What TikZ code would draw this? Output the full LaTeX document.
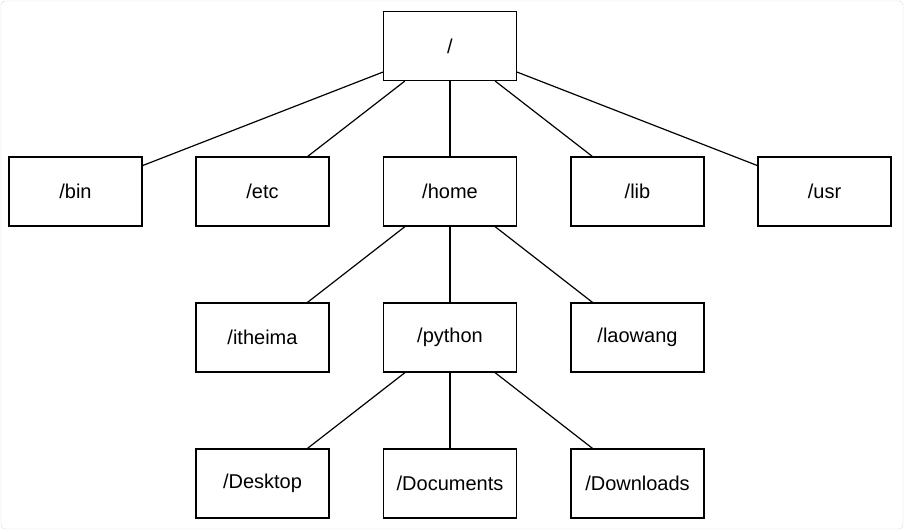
\documentclass[tikz,border=0pt]{standalone}
\usepackage{fontspec}
\setmainfont{Liberation Sans}
\begin{document}
\begin{tikzpicture}[x=1pt,y=-1pt,
  box/.style={draw,line width=1.2pt,minimum width=133pt,minimum height=69pt,inner sep=0pt,font=\fontsize{20}{22}\selectfont},
  ln/.style={line width=1.2pt}]
\useasboundingbox (0,0) rectangle (904,532);
\draw[gray!30,rounded corners=4pt] (1,1) rectangle (903,529);
\node[box] (root) at (450,46) {/};
\node[box] (bin) at (75.5,191.5) {/bin};
\node[box] (etc) at (262.5,191.5) {/etc};
\node[box] (home) at (450,191.5) {/home};
\node[box] (lib) at (637.5,191.5) {/lib};
\node[box] (usr) at (824.5,191.5) {/usr};
\node[box] (ith) at (262.5,337.5) {/itheima};
\node[box] (py) at (450,337.5) {/python};
\node[box] (lw) at (637.5,337.5) {/laowang};
\node[box] (desk) at (262.5,483.5) {/Desktop};
\node[box] (doc) at (450,483.5) {/Documents};
\node[box] (down) at (637.5,483.5) {/Downloads};
\foreach \c in {bin,etc,home,lib,usr} \draw[ln] (root) -- (\c);
\foreach \c in {ith,py,lw} \draw[ln] (home) -- (\c);
\foreach \c in {desk,doc,down} \draw[ln] (py) -- (\c);
\end{tikzpicture}
\end{document}
